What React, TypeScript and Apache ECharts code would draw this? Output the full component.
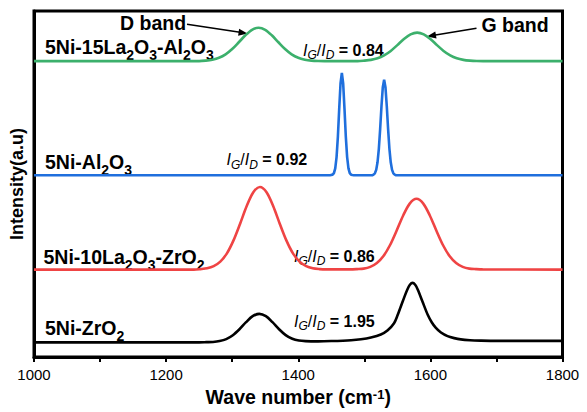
import React, { useEffect, useRef } from 'react';
import * as echarts from 'echarts';

// ---- axis settings ----
const X_MIN = 1000;
const X_MAX = 1800;
const X_STEP = 200;
const Y_MIN = 0;
const Y_MAX = 352;

// ---- sample names and IG/ID ratios ----
const SAMPLE_NAMES = ['5Ni-ZrO2', '5Ni-10La2O3-ZrO2', '5Ni-Al2O3', '5Ni-15La2O3-Al2O3'];
const IG_ID = ['1.95', '0.86', '0.92', '0.84'];
const SERIES_COLORS = ['#000000', '#EF4444', '#1F6FDD', '#3CB06C'];

// ---- spectra: [wave number, offset intensity (a.u.)] ----
const NI_ZRO2: [number, number][] = [
  [1000, 15], [1250, 15], [1261, 15.2], [1271, 15.4], [1281, 16.3], [1291, 18.3], [1301, 22.2],
  [1311, 28.3], [1321, 35.5], [1331, 41.6], [1341, 44], [1351, 41.6], [1361, 35.5], [1371, 28.3],
  [1381, 22.3], [1391, 18.6], [1401, 16.8], [1411, 16.2], [1430, 16], [1450, 16.3], [1480, 17.2],
  [1495, 18.2], [1510, 20], [1525, 23], [1535, 27], [1545, 34.5], [1550, 42], [1555, 51],
  [1560, 60], [1565, 68.5], [1569, 73.5], [1573, 75.5], [1577, 73.5], [1581, 68.5], [1588, 56.5],
  [1596, 43], [1602, 35.5], [1608, 30], [1616, 25], [1626, 21.3], [1636, 19.3], [1646, 18],
  [1660, 17.2], [1676, 16.8], [1700, 16.5], [1800, 16.5],
];

const NI_LA_ZRO2: [number, number][] = [
  [1000, 89], [1242, 89], [1252, 89.5], [1262, 90.3], [1272, 92.5], [1282, 97.1], [1292, 105.5],
  [1302, 118.7], [1312, 135.7], [1322, 153.7], [1332, 167.7], [1342, 173], [1352, 167.7],
  [1362, 153.7], [1372, 135.7], [1382, 118.7], [1392, 105.5], [1402, 97.1], [1412, 92.5],
  [1422, 90.3], [1432, 89.5], [1442, 89.2], [1479, 89.2], [1489, 89.5], [1499, 90], [1509, 91.8],
  [1519, 95.7], [1529, 102.8], [1539, 114], [1549, 128.7], [1559, 144.3], [1569, 156.4],
  [1579, 161], [1589, 156.4], [1599, 144.3], [1609, 128.7], [1619, 114], [1629, 102.8],
  [1639, 95.7], [1649, 91.8], [1659, 90], [1669, 89.5], [1679, 89.2], [1800, 89],
];

const NI_AL2O3: [number, number][] = [
  [1000, 185], [1448, 185], [1450, 185.3], [1452, 185.5], [1454, 187.1], [1456, 192], [1458, 203.4],
  [1460, 224.3], [1462, 252.5], [1464, 278.3], [1466, 289], [1468, 278.3], [1470, 252.5],
  [1472, 224.3], [1474, 203.4], [1476, 192], [1478, 187.1], [1480, 185.5], [1482, 185.2],
  [1484, 185], [1512, 185], [1514, 185.6], [1516, 186.9], [1518, 190.4], [1520, 198.1],
  [1522, 211.9], [1524, 232.2], [1526, 255.4], [1528, 274.5], [1530, 282], [1532, 274.5],
  [1534, 255.4], [1536, 232.2], [1538, 211.9], [1540, 198.1], [1542, 190.4], [1544, 186.9],
  [1546, 185.6], [1548, 185], [1800, 185],
];

const NI_LA_AL2O3: [number, number][] = [
  [1000, 301], [1250, 301], [1260, 301.5], [1270, 302.5], [1280, 304.4], [1290, 307.9],
  [1300, 313.3], [1310, 320.2], [1320, 327.3], [1330, 332.9], [1340, 335], [1350, 332.9],
  [1360, 327.3], [1370, 320.2], [1380, 313.3], [1390, 307.9], [1400, 304.4], [1410, 302.5],
  [1420, 301.5], [1430, 301.1], [1440, 301], [1490, 301], [1500, 301.5], [1510, 302.3],
  [1520, 303.9], [1530, 306.9], [1540, 311.4], [1550, 317.3], [1560, 323.5], [1570, 328.2],
  [1580, 330], [1590, 328.2], [1600, 323.5], [1610, 317.3], [1620, 311.4], [1630, 306.9],
  [1640, 303.9], [1650, 302.3], [1660, 301.5], [1670, 301.1], [1680, 301], [1800, 301],
];

const SPECTRA = [NI_ZRO2, NI_LA_ZRO2, NI_AL2O3, NI_LA_AL2O3];

const FONT = '"Liberation Sans", Arial, Helvetica, sans-serif';

const nameRich = {
  m: { fontSize: 19.5, fontWeight: 'bold', fontFamily: FONT, fill: '#000', lineHeight: 30, verticalAlign: 'middle' },
  s: { fontSize: 14, fontWeight: 'bold', fontFamily: FONT, fill: '#000', lineHeight: 14, verticalAlign: 'bottom' },
};

const ratioRich = {
  i: { fontSize: 16, fontStyle: 'italic', fontFamily: FONT, fill: '#000', lineHeight: 22, verticalAlign: 'middle' },
  s: { fontSize: 12, fontStyle: 'italic', fontFamily: FONT, fill: '#000', lineHeight: 12, verticalAlign: 'bottom' },
  n: { fontSize: 16, fontFamily: FONT, fill: '#000', lineHeight: 22, verticalAlign: 'middle' },
  b: { fontSize: 16, fontWeight: 'bold', fontFamily: FONT, fill: '#000', lineHeight: 22, verticalAlign: 'middle' },
};

// turn "5Ni-10La2O3-ZrO2" into rich text with subscripted digits after letters
function formulaRich(name: string): string {
  let out = '';
  let i = 0;
  const isSub = (j: number) => /[0-9]/.test(name[j]) && j > 0 && /[a-zA-Z]/.test(name[j - 1]);
  while (i < name.length) {
    if (isSub(i)) {
      out += `{s|${name[i]}}`;
      i++;
    } else {
      let j = i;
      let seg = '';
      while (j < name.length && !isSub(j)) {
        seg += name[j];
        j++;
      }
      out += `{m|${seg}}`;
      i = j;
    }
  }
  return out;
}

const ratioText = (v: string) => `{i|I}{s|G}{n|/}{i|I}{s|D}{b| = ${v}}`;

// label placement (pixels): [left x, middle y] for sample names and ratio labels
const NAME_POS: [number, number][] = [[45, 328.4], [43.5, 256.7], [45, 161.7], [45, 46.7]];
const RATIO_POS: [number, number][] = [[294, 321.2], [294, 256.2], [226.5, 159.5], [303, 50.2]];

export default function App() {
  const ref = useRef<HTMLDivElement>(null);

  useEffect(() => {
    if (!ref.current) return;
    const chart = echarts.init(ref.current, undefined, { renderer: 'svg' });

    const graphics: any[] = [];
    SAMPLE_NAMES.forEach((n, k) => {
      graphics.push({
        type: 'text',
        x: NAME_POS[k][0],
        y: NAME_POS[k][1],
        silent: true,
        style: { text: formulaRich(n), rich: nameRich, align: 'left', verticalAlign: 'middle' },
      });
      graphics.push({
        type: 'text',
        x: RATIO_POS[k][0],
        y: RATIO_POS[k][1],
        silent: true,
        style: { text: ratioText(IG_ID[k]), rich: ratioRich, align: 'left', verticalAlign: 'middle' },
      });
    });
    // band annotations
    graphics.push({
      type: 'text', x: 120, y: 22.7, silent: true,
      style: { text: 'D band', font: `bold 19.5px ${FONT}`, fill: '#000', align: 'left', verticalAlign: 'middle' },
    });
    graphics.push({
      type: 'text', x: 481.5, y: 25.1, silent: true,
      style: { text: 'G band', font: `bold 19.5px ${FONT}`, fill: '#000', align: 'left', verticalAlign: 'middle' },
    });
    graphics.push({
      type: 'line', silent: true,
      shape: { x1: 187, y1: 24.3, x2: 240, y2: 32.3 },
      style: { stroke: '#000', lineWidth: 1.5 },
    });
    graphics.push({
      type: 'polygon', silent: true,
      shape: { points: [[247.5, 33.5], [239.1, 28.7], [238.1, 35.7]] },
      style: { fill: '#000' },
    });
    graphics.push({
      type: 'line', silent: true,
      shape: { x1: 476.5, y1: 28.3, x2: 434, y2: 35.3 },
      style: { stroke: '#000', lineWidth: 1.5 },
    });
    graphics.push({
      type: 'polygon', silent: true,
      shape: { points: [[427, 36.5], [435.3, 31.6], [436.5, 38.5]] },
      style: { fill: '#000' },
    });

    chart.setOption({
      animation: false,
      backgroundColor: '#ffffff',
      grid: {
        left: 32, right: 24.5, top: 11, bottom: 49,
        show: true, borderColor: '#000', borderWidth: 3, backgroundColor: 'transparent',
      },
      xAxis: {
        type: 'value',
        min: X_MIN,
        max: X_MAX,
        interval: X_STEP,
        name: '{m|Wave number (cm}{p|-1}{m|)}',
        nameLocation: 'middle',
        nameGap: 26.5,
        nameTextStyle: {
          rich: {
            m: { fontSize: 19.5, fontWeight: 'bold', fontFamily: FONT, color: '#000', lineHeight: 19, verticalAlign: 'middle' },
            p: { fontSize: 13, fontWeight: 'bold', fontFamily: FONT, color: '#000', lineHeight: 6, verticalAlign: 'top' },
          },
        },
        axisLine: { show: true, onZero: false, lineStyle: { color: '#000', width: 3 } },
        axisTick: { show: true, inside: false, length: 5, lineStyle: { color: '#000', width: 2 } },
        minorTick: { show: true, splitNumber: 2, length: 5, lineStyle: { color: '#000', width: 2 } },
        axisLabel: {
          color: '#000', fontSize: 15, fontFamily: FONT, margin: 10,
          formatter: (v: number) => String(v),
        },
        splitLine: { show: false },
        minorSplitLine: { show: false },
      },
      yAxis: {
        type: 'value',
        min: Y_MIN,
        max: Y_MAX,
        name: 'Intensity(a.u)',
        nameLocation: 'middle',
        nameGap: 8,
        nameTextStyle: { fontSize: 18, fontWeight: 'bold', fontFamily: FONT, color: '#000' },
        axisLine: { show: true, lineStyle: { color: '#000', width: 3 } },
        axisTick: { show: false },
        axisLabel: { show: false },
        splitLine: { show: false },
      },
      series: SPECTRA.map((d, k) => ({
        type: 'line',
        name: SAMPLE_NAMES[k],
        data: d,
        showSymbol: false,
        symbol: 'none',
        silent: true,
        smooth: k === 2 ? false : 0.3,
        lineStyle: { color: SERIES_COLORS[k], width: 2.6 },
        z: 3,
      })),
      graphic: graphics,
    });

    return () => chart.dispose();
  }, []);

  return (
    <div
      ref={ref}
      style={{ position: 'fixed', left: 0, top: 0, width: 587, height: 412, background: '#fff' }}
    />
  );
}
